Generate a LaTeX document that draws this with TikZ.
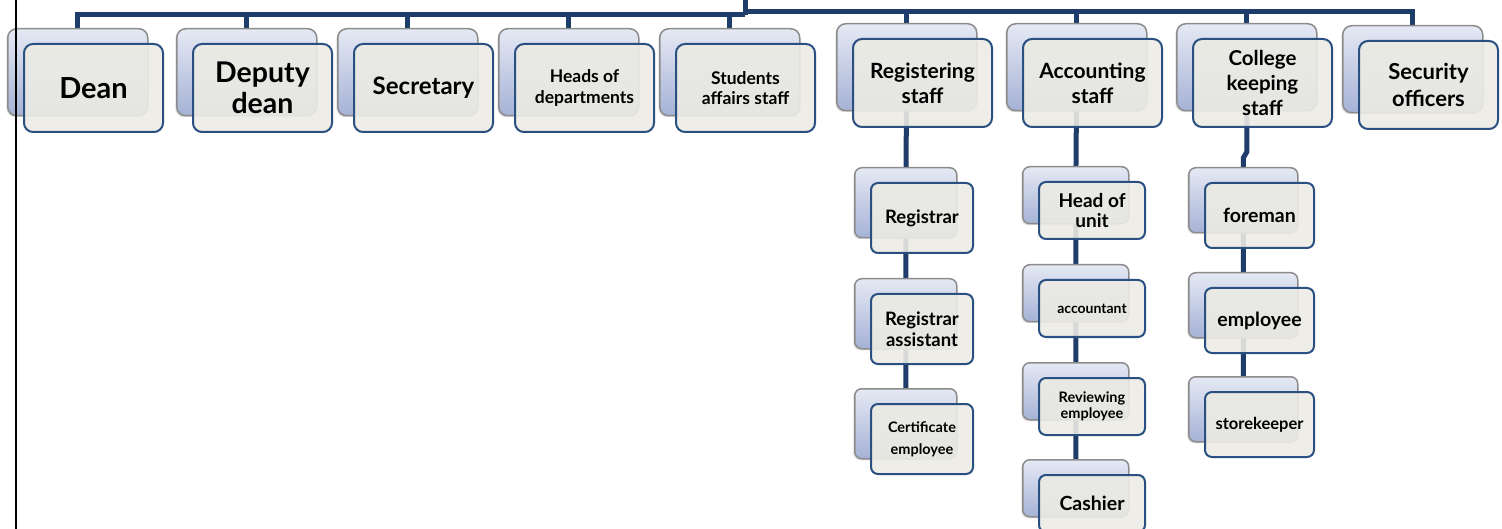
\documentclass[tikz,border=0pt]{standalone}
\usepackage{fontspec}
\setmainfont{Lato}
\usetikzlibrary{backgrounds,shadows}
\definecolor{barblue}{RGB}{31,61,106}
\definecolor{boxedge}{RGB}{42,80,130}
\definecolor{boxfill}{RGB}{236,235,228}
\definecolor{backtop}{RGB}{229,233,244}
\definecolor{backbot}{RGB}{166,178,214}
\definecolor{backedge}{RGB}{140,140,140}
\tikzset{
  bar/.style={barblue, line width=5pt},
  backbox/.style={draw=backedge, line width=1.5pt, rounded corners=9pt,
    top color=backtop, bottom color=backbot, anchor=north west, inner sep=0pt,
    drop shadow={shadow xshift=-1.5pt, shadow yshift=-1.5pt, opacity=.25}},
  frontbox/.style={draw=boxedge, line width=2pt, rounded corners=9pt,
    fill=boxfill, fill opacity=.9, text opacity=1, anchor=north west,
    align=center, inner sep=2pt}
}
\begin{document}
\begin{tikzpicture}[x=1pt,y=-1pt]
  \useasboundingbox (0,0) rectangle (1502,529);
  \clip (0,0) rectangle (1502,529);
  % first level
  \foreach \n/\x/\y/\f/\b/\t in {dean/7/28/29/32/Dean,
      deputy/176/28/28.5/31/{Deputy\\dean},
      secretary/337/28/24/27/Secretary,
      heads/498/28/17.5/20.5/{Heads of\\departments},
      students/659/28/17.5/20.5/{Students\\affairs staff},
      registering/836/23/21/25/{Registering\\staff},
      accounting/1006/23/21/25/{Accounting\\staff},
      college/1176/23/20.5/25/{College\\keeping\\staff},
      security/1342/25/22/27/{Security\\officers}}{
    \node[backbox, minimum width=140pt, minimum height=87pt] (\n-b) at (\x,\y) {};
    \node[frontbox, minimum width=139pt, minimum height=88pt,
      font=\bfseries\fontsize{\f}{\b}\selectfont] (\n) at ({\x+16},{\y+15}) {\t};
  }
  % second level
  \foreach \n/\x/\y/\w/\h/\f/\b/\t in {registrar/854/167/102/70/18.5/21/Registrar,
      regassist/854/278/102/70/18.5/21/{Registrar\\assistant},
      certificate/854/388/102/70/14.5/22/{Certificate\\employee},
      headunit/1022/166/106/57/19/20/{Head of\\unit},
      accountant/1022/264/106/57/14/16/accountant,
      reviewing/1022/362/106/57/14.5/15.5/{Reviewing\\employee},
      cashier/1022/459/106/57/19.5/22/Cashier,
      foreman/1188/167/109/65/19.5/22/foreman,
      employee/1188/272/109/65/19.5/22/employee,
      storekeeper/1188/376/109/65/16.5/19/storekeeper}{
    \node[backbox, rounded corners=7pt, minimum width=\w pt, minimum height=\h pt] (\n-b) at (\x,\y) {};
    \node[frontbox, rounded corners=7pt, minimum width=\w pt, minimum height=\h pt,
      font=\bfseries\fontsize{\f}{\b}\selectfont] (\n) at ({\x+16},{\y+15}) {\t};
  }
  \coordinate (top) at (745,0);
  \coordinate (hubL) at (745,15);
  \coordinate (hubR) at (745,12);
  \begin{pgfonlayer}{background}
    \draw[bar] (top) -- (hubL);
    \foreach \n in {dean,deputy,secretary,heads,students}
      \draw[bar] (hubL) -| (\n-b.north);
    \foreach \n in {registering,accounting,college,security}
      \draw[bar] (hubR) -| (\n-b.north);
    \draw[bar] (registering-b.center) -- (registrar-b.center) -- (regassist-b.center) -- (certificate-b.center);
    \draw[bar] (accounting-b.center) -- (headunit-b.center) -- (accountant-b.center) -- (reviewing-b.center) -- (cashier-b.center);
    \draw[bar] (college-b.center) -- (college-b.center |- 0,152) -- (foreman-b.center |- 0,158)
      -- (foreman-b.center) -- (employee-b.center) -- (storekeeper-b.center);
  \end{pgfonlayer}
  % page border
  \draw[black, line width=2.5pt] (16,0) -- (16,529);
\end{tikzpicture}
\end{document}
